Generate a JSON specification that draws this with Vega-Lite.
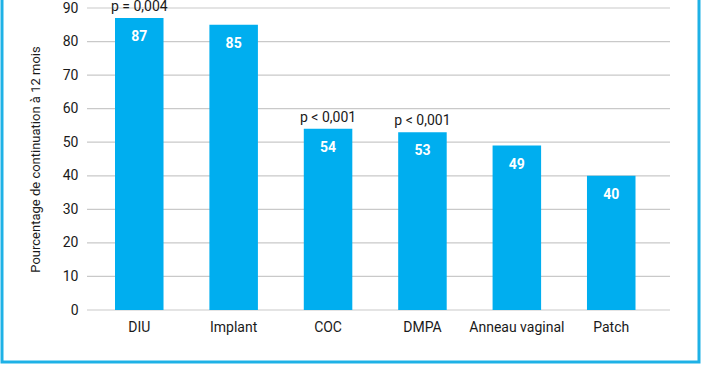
{
  "$schema": "https://vega.github.io/schema/vega-lite/v6.json",
  "width": 697,
  "height": 366,
  "autosize": {"type": "none"},
  "padding": {"left": 2, "top": -4, "right": 3, "bottom": 8},
  "background": "white",
  "config": {
    "view": {"stroke": "#1EB1E6", "strokeWidth": 3, "fill": "white"},
    "font": "Roboto"
  },
  "datasets": {
    "bars": [
      {"methode": "DIU", "valeur": 87, "p": "p = 0,004"},
      {"methode": "Implant", "valeur": 85, "p": ""},
      {"methode": "COC", "valeur": 54, "p": "p < 0,001"},
      {"methode": "DMPA", "valeur": 53, "p": "p < 0,001"},
      {"methode": "Anneau vaginal", "valeur": 49, "p": ""},
      {"methode": "Patch", "valeur": 40, "p": ""}
    ],
    "grid": [
      {"g": 0}, {"g": 10}, {"g": 20}, {"g": 30}, {"g": 40},
      {"g": 50}, {"g": 60}, {"g": 70}, {"g": 80}, {"g": 90}
    ]
  },
  "resolve": {"scale": {"x": "independent"}, "axis": {"x": "independent"}},
  "layer": [
    {
      "data": {"name": "grid"},
      "mark": {"type": "rule", "color": "#c9c9c9", "strokeWidth": 1.2},
      "encoding": {
        "x": {"datum": 0, "type": "quantitative", "scale": {"domain": [0, 1], "range": [85, 668]}, "axis": null},
        "x2": {"datum": 1},
        "y": {
          "field": "g", "type": "quantitative",
          "scale": {"domain": [0, 90], "range": [314, 12]},
          "axis": {"orient": "left", "offset": -84, "values": [0,10,20,30,40,50,60,70,80,90], "grid": false, "domain": false, "ticks": false, "labelPadding": 8, "labelFontSize": 14, "labelColor": "#1a1a1a", "title": "Pourcentage de continuation à 12 mois", "titleFontSize": 13, "titleFontWeight": "normal", "titleColor": "#1a1a1a", "titlePadding": 20}
        }
      }
    },
    {
      "data": {"name": "bars"},
      "encoding": {
        "x": {
          "field": "methode", "type": "nominal", "sort": null,
          "scale": {"range": [113, 633.5], "paddingInner": 0.486, "paddingOuter": 0},
          "axis": {"orient": "bottom", "offset": -52, "title": null, "labelAngle": 0, "domain": false, "ticks": false, "labelPadding": 10, "labelFontSize": 14, "labelColor": "#1a1a1a"}
        },
        "y": {
          "field": "valeur", "type": "quantitative",
          "scale": {"domain": [0, 90], "range": [314, 12]},
          "axis": {"orient": "left", "offset": -84, "values": [0,10,20,30,40,50,60,70,80,90], "grid": false, "domain": false, "ticks": false, "labelPadding": 8, "labelFontSize": 14, "labelColor": "#1a1a1a", "title": "Pourcentage de continuation à 12 mois", "titleFontSize": 13, "titleFontWeight": "normal", "titleColor": "#1a1a1a", "titlePadding": 20}
        }
      },
      "layer": [
        {"mark": {"type": "bar", "color": "#00AEEF"}},
        {
          "mark": {"type": "text", "color": "white", "fontWeight": "bold", "fontSize": 14, "baseline": "middle", "dy": 19},
          "encoding": {"text": {"field": "valeur", "type": "quantitative"}}
        },
        {
          "mark": {"type": "text", "color": "#1a1a1a", "fontSize": 14, "baseline": "middle", "dy": -11},
          "encoding": {"text": {"field": "p", "type": "nominal"}}
        }
      ]
    }
  ]
}
